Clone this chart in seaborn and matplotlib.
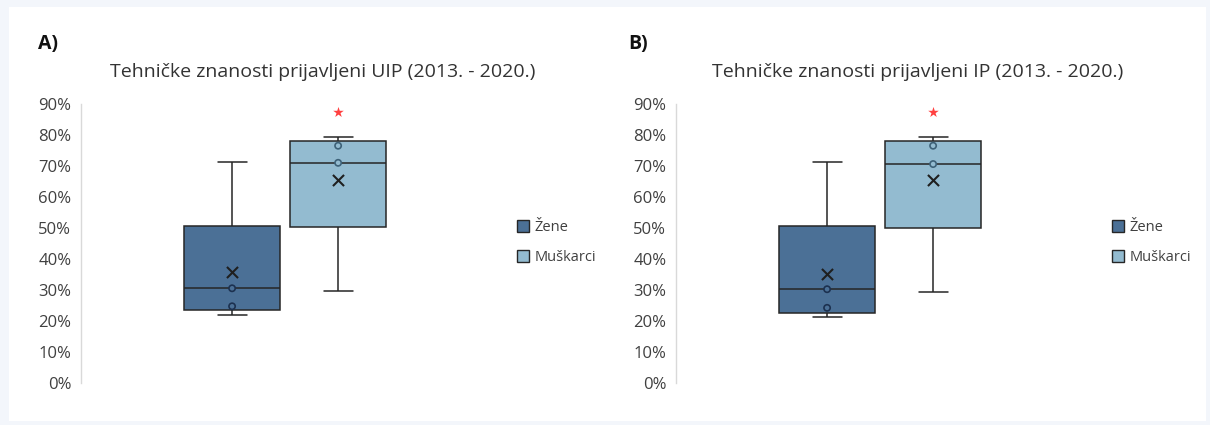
import numpy as np
import pandas as pd
import seaborn as sns
import matplotlib.pyplot as plt
from matplotlib.patches import Rectangle
from matplotlib.ticker import PercentFormatter

# grupe i boje
grupe = ['Žene', 'Muškarci']
boje = {'Žene': '#4b7096', 'Muškarci': '#93bbd0'}

# pet brojeva (min, Q1, medijan, Q3, max) očitano sa slike, u %
uip_zene = [21.8, 23.4, 30.5, 50.6, 71.3]
uip_muskarci = [29.6, 50.3, 70.9, 77.9, 79.2]
ip_zene = [21.4, 22.7, 30.2, 50.6, 71.3]
ip_muskarci = [29.3, 50.0, 70.5, 77.9, 79.1]

# srednje vrijednosti (x)
uip_sredina = [35.6, 65.3]
ip_sredina = [35.2, 65.3]

# unutarnje točke
uip_tocke_zene = [30.5, 24.7]
uip_tocke_muskarci = [76.4, 70.9]
ip_tocke_zene = [30.2, 24.2]
ip_tocke_muskarci = [76.4, 70.5]

# zvjezdica (značajnost) iznad muškaraca
zvjezdica = [87.3, 87.2]

naslovi = ['Tehničke znanosti prijavljeni UIP (2013. - 2020.)',
           'Tehničke znanosti prijavljeni IP (2013. - 2020.)']
oznake = ['A)', 'B)']

paneli = [
    (uip_zene, uip_muskarci, uip_sredina, uip_tocke_zene, uip_tocke_muskarci, zvjezdica[0]),
    (ip_zene, ip_muskarci, ip_sredina, ip_tocke_zene, ip_tocke_muskarci, zvjezdica[1]),
]

sns.set_style('white')
plt.rcParams['font.family'] = ['Open Sans', 'DejaVu Sans']

fig = plt.figure(figsize=(12.1, 4.25), dpi=100, facecolor='#f3f6fb')
fig.patches.append(Rectangle((9 / 1210, 4 / 425), 1197 / 1210, 414 / 425,
                             transform=fig.transFigure, facecolor='white',
                             edgecolor='none', zorder=-10))

lijevo = [81 / 1210, 676 / 1210]
sirina = 409 / 1210
dno = 1 - 383 / 425
visina = (383 - 103.5) / 425

for i, (z, m, sred, tz, tm, zv) in enumerate(paneli):
    ax = fig.add_axes([lijevo[i], dno, sirina, visina])
    ax.set_facecolor('none')

    box = pd.DataFrame({'x': [''] * (len(z) + len(m)),
                        'spol': ['Žene'] * len(z) + ['Muškarci'] * len(m),
                        'vrijednost': z + m})
    sns.boxplot(data=box, x='x', y='vrijednost', hue='spol', hue_order=grupe,
                palette=boje, saturation=1, gap=0.1, whis=(0, 100),
                linecolor='#262626', linewidth=1.1, showfliers=False,
                capwidths=0.11, ax=ax)

    # unutarnje točke, rub tamniji od ispune
    for spol, vr, rub in [('Žene', tz, '#1c3150'), ('Muškarci', tm, '#3d6178')]:
        tocke = pd.DataFrame({'x': [''] * len(vr), 'spol': [spol] * len(vr),
                              'vrijednost': vr})
        sns.stripplot(data=tocke, x='x', y='vrijednost', hue='spol',
                      hue_order=grupe, palette=boje, dodge=True, jitter=False,
                      size=4.5, edgecolor=rub, linewidth=1.2, legend=False,
                      zorder=4, ax=ax)

    sredine = pd.DataFrame({'x': ['', ''], 'spol': grupe, 'vrijednost': sred})
    sns.stripplot(data=sredine, x='x', y='vrijednost', hue='spol', hue_order=grupe,
                  palette={'Žene': '#1f1f1f', 'Muškarci': '#1f1f1f'}, dodge=True,
                  jitter=False, marker='x', size=8, linewidth=1.5,
                  legend=False, zorder=5, ax=ax)

    zvj = pd.DataFrame({'x': [''], 'spol': ['Muškarci'], 'vrijednost': [zv]})
    sns.stripplot(data=zvj, x='x', y='vrijednost', hue='spol', hue_order=grupe,
                  palette={'Žene': '#ff4040', 'Muškarci': '#ff4040'}, dodge=True,
                  jitter=False, marker='*', size=8, linewidth=0,
                  legend=False, zorder=5, ax=ax)

    ax.set_xlim(-0.770, 0.773)
    ax.set_ylim(0, 90)
    ax.set_yticks(np.arange(0, 91, 10))
    ax.yaxis.set_major_formatter(PercentFormatter(decimals=0))
    ax.tick_params(axis='y', length=0, pad=7, labelsize=12, labelcolor='#404040')
    ax.set_xticks([])
    ax.set_xlabel('')
    ax.set_ylabel('')
    for s in ['top', 'right', 'bottom']:
        ax.spines[s].set_visible(False)
    ax.spines['left'].set_color('#d9d9d9')
    ax.spines['left'].set_linewidth(1)

    h, l = ax.get_legend_handles_labels()
    for hh in h:
        hh.set_edgecolor('#262626')
        hh.set_linewidth(1.0)
    ax.legend(h, l, loc='center left', bbox_to_anchor=(1.066, 0.502),
              frameon=False, fontsize=10.5, borderaxespad=0, borderpad=0,
              handlelength=0.82, handleheight=0.85, handletextpad=0.4,
              labelspacing=1.05, labelcolor='#404040')

    cx = lijevo[i] + sirina * (0.770 + 0.14) / 1.543
    fig.text(cx, 1 - 72 / 425, naslovi[i], ha='center', va='center',
             fontsize=14, color='#333333')
    fig.text((38 if i == 0 else 628) / 1210, 1 - 44 / 425, oznake[i],
             ha='left', va='center', fontsize=14, fontweight='bold',
             color='#111111')

fig.savefig('out.png', dpi=100, facecolor=fig.get_facecolor())
